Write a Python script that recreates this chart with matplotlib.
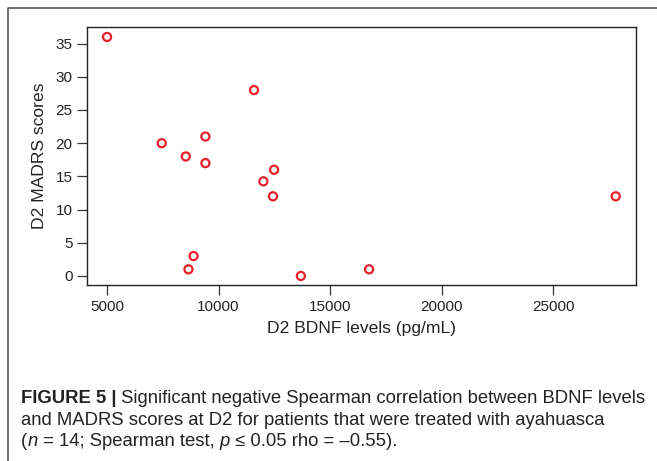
import numpy as np
import matplotlib
matplotlib.use("Agg")
import matplotlib.pyplot as plt
from matplotlib.lines import Line2D

plt.rcParams['font.family'] = ['Liberation Sans', 'DejaVu Sans']

# D2 BDNF levels (pg/mL) and D2 MADRS scores, one point per patient
bdnf = [5000, 7450, 8530, 9410, 9410, 11590, 12010, 12490, 12440, 8650, 8880, 13690, 16750, 27810]
madrs = [36, 20, 18, 21, 17, 28, 14.25, 16, 12, 1, 3, 0, 1, 12]

xticks = [5000, 10000, 15000, 20000, 25000]
yticks = [0, 5, 10, 15, 20, 25, 30, 35]

W, H = 657, 461
fig = plt.figure(figsize=(W / 100, H / 100), dpi=100)

# outer frame of the figure panel (open on right / bottom as cropped)
fig.add_artist(Line2D([8 / W, 8 / W, 1], [0, 1 - 8 / H, 1 - 8 / H],
                      transform=fig.transFigure, color='#555555', lw=1.2))

ax = fig.add_axes([87 / W, (H - 285) / H, (636 - 87) / W, (285 - 27) / H])
ax.scatter(bdnf, madrs, s=34, facecolors='none', edgecolors='#e8202a', linewidths=1.6, zorder=3)

ax.set_xlim(4100, 28720)
ax.set_ylim(-1.36, 37.5)
ax.set_xticks(xticks)
ax.set_yticks(yticks)
ax.tick_params(labelsize=11, length=7, width=0.9, color='#333333', labelcolor='#222222', pad=3.5)
for s in ax.spines.values():
    s.set_linewidth(1.0)
    s.set_color('#222222')

ax.set_xlabel('D2 BDNF levels (pg/mL)', fontsize=12.6, color='#222222', labelpad=5)
ax.set_ylabel('D2 MADRS scores', fontsize=12.6, color='#222222', labelpad=6)

# caption, written piece by piece so bold / italic parts sit on one baseline
cap = dict(fontsize=13.3, color='#222222', va='baseline')
renderer = fig.canvas.get_renderer()


def line(pieces, y_px):
    x = 21 / W
    for txt, kw in pieces:
        t = fig.text(x, 1 - y_px / H, txt, **cap, **kw)
        bb = t.get_window_extent(renderer)
        x = bb.x1 / fig.bbox.width


line([('FIGURE 5 |', {'fontweight': 'bold'}),
      (' Significant negative Spearman correlation between BDNF levels', {})], 403)
line([('and MADRS scores at D2 for patients that were treated with ayahuasca', {})], 424.5)
line([('(', {}), ('n', {'style': 'italic'}), (' = 14; Spearman test, ', {}),
      ('p', {'style': 'italic'}), (' \u2264 0.05 rho = \u20130.55).', {})], 446)

fig.savefig('out.png', dpi=100)
